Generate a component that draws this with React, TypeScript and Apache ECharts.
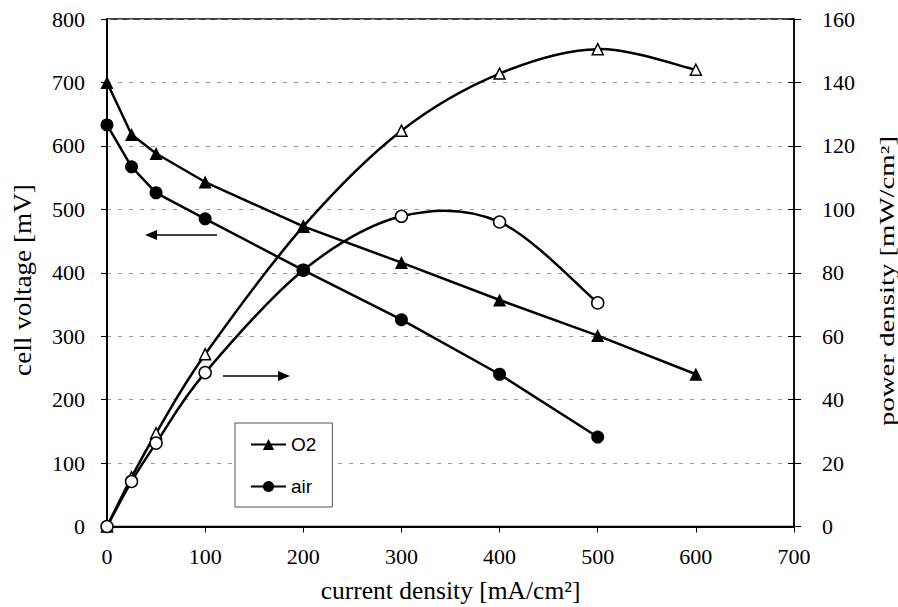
import React, { useEffect, useRef } from "react";
import * as echarts from "echarts";

// current density [mA/cm²]
const o2Current = [0, 25, 50, 100, 200, 300, 400, 500, 600];
const airCurrent = [0, 25, 50, 100, 200, 300, 400, 500];
// cell voltage [mV]
const o2Voltage = [700, 618, 588, 543, 473, 416, 357, 301, 240];
const airVoltage = [633, 567, 526, 485, 404, 326, 240, 141];
// power density [mW/cm²]
const o2Power = [0, 15.5, 29.4, 54.3, 94.6, 124.8, 142.8, 150.5, 144];
const airPower = [0, 14.2, 26.3, 48.5, 80.8, 97.8, 96, 70.5];

const xTicks = { min: 0, max: 700, interval: 100 };
const leftTicks = { min: 0, max: 800, interval: 100 };
const rightTicks = { min: 0, max: 160, interval: 20 };

const xName = "current density [mA/cm²]";
const leftName = "cell voltage [mV]";
const rightName = "power density [mW/cm²]";

const pair = (xs: number[], ys: number[]) => xs.map((x, i) => [x, ys[i]]);

const SERIF = "'Liberation Serif', 'Times New Roman', serif";
const SANS = "'Liberation Sans', Arial, sans-serif";

// Excel-like smoothed curve (Catmull-Rom -> cubic Bezier) through the data points, in pixel space
function smoothRenderer(points: number[][]) {
  return (params: any, api: any) => {
    if (params.dataIndex !== 0) return null;
    const p = points.map((d) => api.coord(d));
    let d = `M${p[0][0]},${p[0][1]}`;
    for (let i = 0; i < p.length - 1; i++) {
      const p0 = p[Math.max(0, i - 1)];
      const p1 = p[i];
      const p2 = p[i + 1];
      const p3 = p[Math.min(p.length - 1, i + 2)];
      const c1x = p1[0] + (p2[0] - p0[0]) / 6;
      const c1y = p1[1] + (p2[1] - p0[1]) / 6;
      const c2x = p2[0] - (p3[0] - p1[0]) / 6;
      const c2y = p2[1] - (p3[1] - p1[1]) / 6;
      d += ` C${c1x},${c1y} ${c2x},${c2y} ${p2[0]},${p2[1]}`;
    }
    return {
      type: "path",
      shape: { pathData: d },
      style: { stroke: "#000", lineWidth: 2.5, fill: "none" },
    };
  };
}

export default function App() {
  const ref = useRef<HTMLDivElement>(null);
  useEffect(() => {
    if (!ref.current) return;
    const chart = echarts.init(ref.current, undefined, { renderer: "svg" });
    const labelStyle = { color: "#000", fontFamily: SERIF, fontSize: 22 };
    const o2PowerData = pair(o2Current, o2Power);
    const airPowerData = pair(airCurrent, airPower);
    chart.setOption({
      animation: false,
      backgroundColor: "#fff",
      grid: {
        left: 107,
        right: 104,
        top: 19,
        bottom: 80.5,
        outerBoundsMode: "none",
        containLabel: false,
        show: true,
        borderColor: "#000",
        borderWidth: 1.5,
      },
      legend: {
        data: ["O2", "air"],
        orient: "vertical",
        left: 235,
        top: 423,
        padding: [12, 16, 11, 15],
        itemGap: 23,
        itemWidth: 35,
        itemHeight: 14,
        borderColor: "#555",
        borderWidth: 1,
        backgroundColor: "#fff",
        textStyle: { color: "#000", fontFamily: SANS, fontSize: 19, lineHeight: 18 },
      },
      xAxis: {
        type: "value",
        ...xTicks,
        name: xName,
        nameLocation: "middle",
        nameGap: 51,
        nameTextStyle: { ...labelStyle, fontSize: 25.5 },
        axisLine: { show: true, lineStyle: { color: "#000", width: 2 } },
        axisTick: { show: true, length: 6, lineStyle: { color: "#000", width: 1 } },
        axisLabel: { ...labelStyle, margin: 19 },
        splitLine: { show: false },
      },
      yAxis: [
        {
          type: "value",
          ...leftTicks,
          position: "left",
          axisLine: { show: true, lineStyle: { color: "#000", width: 2 } },
          axisTick: { show: true, length: 6, lineStyle: { color: "#000", width: 1 } },
          axisLabel: { ...labelStyle, margin: 22 },
          splitLine: { show: true, lineStyle: { color: "#999", width: 1, type: [4, 7] } },
        },
        {
          type: "value",
          ...rightTicks,
          position: "right",
          axisLine: { show: true, lineStyle: { color: "#000", width: 1.5 } },
          axisTick: { show: true, length: 7, lineStyle: { color: "#000", width: 1 } },
          axisLabel: { ...labelStyle, margin: 28 },
          splitLine: { show: false },
        },
        {
          type: "value",
          ...rightTicks,
          position: "right",
          axisLine: { show: false },
          axisTick: { show: true, inside: true, length: 6, lineStyle: { color: "#000", width: 1 } },
          axisLabel: { show: false },
          splitLine: { show: false },
        },
      ],
      series: [
        {
          name: "O2 power curve",
          type: "custom",
          yAxisIndex: 1,
          data: o2PowerData,
          encode: { x: 0, y: 1 },
          renderItem: smoothRenderer(o2PowerData),
          z: 1,
        },
        {
          name: "air power curve",
          type: "custom",
          yAxisIndex: 1,
          data: airPowerData,
          encode: { x: 0, y: 1 },
          renderItem: smoothRenderer(airPowerData),
          z: 1,
        },
        {
          name: "O2 power",
          type: "scatter",
          yAxisIndex: 1,
          data: o2PowerData,
          symbol: "triangle",
          symbolSize: 11,
          itemStyle: { color: "#fff", borderColor: "#000", borderWidth: 1.5, opacity: 1 },
          z: 2,
        },
        {
          name: "air power",
          type: "scatter",
          yAxisIndex: 1,
          data: airPowerData,
          symbol: "circle",
          symbolSize: 12,
          itemStyle: { color: "#fff", borderColor: "#000", borderWidth: 1.5, opacity: 1 },
          z: 2,
        },
        {
          name: "O2",
          type: "line",
          yAxisIndex: 0,
          data: pair(o2Current, o2Voltage),
          symbol: "triangle",
          symbolSize: 13,
          lineStyle: { color: "#000", width: 2.5 },
          itemStyle: { color: "#000" },
          z: 3,
        },
        {
          name: "air",
          type: "line",
          yAxisIndex: 0,
          data: pair(airCurrent, airVoltage),
          symbol: "circle",
          symbolSize: 13,
          lineStyle: { color: "#000", width: 2.5 },
          itemStyle: { color: "#000" },
          z: 3,
        },
      ],
      graphic: [
        {
          type: "text",
          x: 23,
          y: 280,
          rotation: Math.PI / 2,
          scaleX: 1.11,
          style: { text: leftName, fontFamily: SERIF, fontSize: 24.5, fill: "#000", align: "center", verticalAlign: "middle" },
        },
        {
          type: "text",
          x: 887,
          y: 281,
          rotation: Math.PI / 2,
          scaleX: 1.2,
          scaleY: 0.85,
          style: { text: rightName, fontFamily: SERIF, fontSize: 24, fill: "#000", align: "center", verticalAlign: "middle" },
        },
        { type: "line", shape: { x1: 217, y1: 235, x2: 155, y2: 235 }, style: { stroke: "#000", lineWidth: 1.5 } },
        { type: "polygon", shape: { points: [[145, 235], [157, 230], [157, 240]] }, style: { fill: "#000" } },
        { type: "line", shape: { x1: 223, y1: 376, x2: 281, y2: 376 }, style: { stroke: "#000", lineWidth: 1.5 } },
        { type: "polygon", shape: { points: [[290, 376], [278, 371], [278, 381]] }, style: { fill: "#000" } },
      ],
    });
    return () => chart.dispose();
  }, []);
  return <div ref={ref} style={{ width: 898, height: 607, position: "absolute", left: 0, top: 0 }} />;
}
